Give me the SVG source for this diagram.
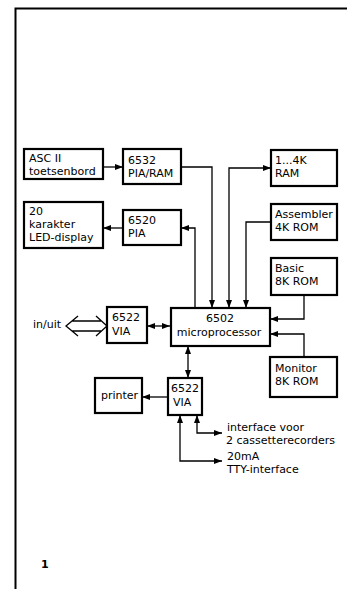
<svg xmlns="http://www.w3.org/2000/svg" width="347" height="589" viewBox="0 0 347 589">
<style>
.box{fill:#fff;stroke:#000;stroke-width:2.2}
.t{font-family:"DejaVu Sans","Liberation Sans",Arial,sans-serif;font-size:11px;fill:#000}
.c{fill:none;stroke:#000;stroke-width:1.3}
.frame{fill:none;stroke:#000;stroke-width:2}
</style>
<defs>
<marker id="ah" viewBox="0 0 8 6" refX="8" refY="3" markerWidth="8" markerHeight="6" markerUnits="userSpaceOnUse" orient="auto-start-reverse">
<path d="M0,0 L8,3 L0,6 Z" fill="#000"/>
</marker>
</defs>
<rect width="347" height="589" fill="#fff"/>
<path class="frame" d="M15.5,589 V8.5 H347"/>
<g id="connectors">
<path class="c" d="M103,167 H123" marker-end="url(#ah)"/>
<path class="c" d="M123,228 H103" marker-end="url(#ah)"/>
<path class="c" d="M195,308 V228 H181" marker-end="url(#ah)"/>
<path class="c" d="M181,167 H212 V308" marker-end="url(#ah)"/>
<path class="c" d="M229,308 V168 H271" marker-start="url(#ah)" marker-end="url(#ah)"/>
<path class="c" d="M271,222 H246 V308" marker-end="url(#ah)"/>
<path class="c" d="M304,295 V319 H270" marker-end="url(#ah)"/>
<path class="c" d="M304,357 V334 H270" marker-end="url(#ah)"/>
<path class="c" d="M147,326 H170" marker-start="url(#ah)" marker-end="url(#ah)"/>
<path class="c" d="M188,346 V378" marker-start="url(#ah)" marker-end="url(#ah)"/>
<path class="c" d="M168,397 H142" marker-end="url(#ah)"/>
<path class="c" d="M197,415 V433 H222" marker-start="url(#ah)" marker-end="url(#ah)"/>
<path class="c" d="M180,415 V461 H222" marker-start="url(#ah)" marker-end="url(#ah)"/>
<path class="c" d="M78,316 L66,326 L78,336 M96,316 L107,326 L96,336 M72,321 H101 M72,331 H101" stroke-width="1.5"/>
</g>
<g id="asc"><rect class="box" x="24" y="149" width="79" height="30"/><text class="t" x="29" y="162">ASC II</text><text class="t" x="29" y="175">toetsenbord</text></g>
<g id="pia6532"><rect class="box" x="123" y="149" width="58" height="35"/><text class="t" x="128" y="164">6532</text><text class="t" x="128" y="177">PIA/RAM</text></g>
<g id="led"><rect class="box" x="24" y="202" width="79" height="46"/><text class="t" x="29" y="215">20</text><text class="t" x="29" y="228">karakter</text><text class="t" x="29" y="241">LED-display</text></g>
<g id="pia6520"><rect class="box" x="123" y="210" width="58" height="35"/><text class="t" x="128" y="224">6520</text><text class="t" x="128" y="237">PIA</text></g>
<g id="ram"><rect class="box" x="271" y="150" width="66" height="36"/><text class="t" x="275" y="164">1...4K</text><text class="t" x="275" y="177">RAM</text></g>
<g id="asm"><rect class="box" x="271" y="204" width="66" height="36"/><text class="t" x="275" y="218">Assembler</text><text class="t" x="275" y="231">4K  ROM</text></g>
<g id="basic"><rect class="box" x="271" y="258" width="66" height="37"/><text class="t" x="275" y="272">Basic</text><text class="t" x="275" y="285">8K  ROM</text></g>
<g id="monitor"><rect class="box" x="270" y="357" width="67" height="40"/><text class="t" x="275" y="372">Monitor</text><text class="t" x="275" y="385">8K  ROM</text></g>
<g id="cpu"><rect class="box" x="171" y="308" width="99" height="38"/><text class="t" x="220" y="322" text-anchor="middle">6502</text><text class="t" x="219" y="336" text-anchor="middle">microprocessor</text></g>
<g id="via1"><rect class="box" x="107" y="307" width="40" height="36"/><text class="t" x="112" y="321">6522</text><text class="t" x="112" y="335">VIA</text></g>
<g id="via2"><rect class="box" x="168" y="378" width="34" height="37"/><text class="t" x="171" y="392">6522</text><text class="t" x="173" y="406">VIA</text></g>
<g id="printer"><rect class="box" x="95" y="378" width="47" height="35"/><text class="t" x="101" y="399">printer</text></g>
<g id="labels">
<text class="t" x="33" y="328">in/uit</text>
<text class="t" x="227" y="431">interface voor</text>
<text class="t" x="226" y="444">2 cassetterecorders</text>
<text class="t" x="227" y="460">20mA</text>
<text class="t" x="227" y="473">TTY-interface</text>
<text class="t" x="41" y="568" font-weight="bold" font-size="13">1</text>
</g>
</svg>
